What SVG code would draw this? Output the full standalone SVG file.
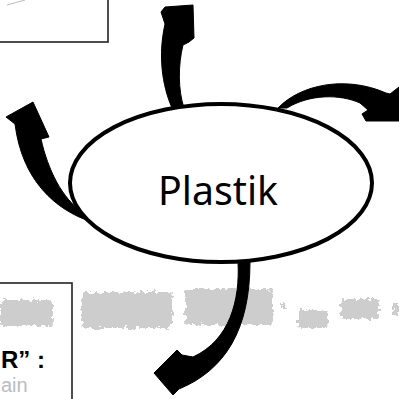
<svg xmlns="http://www.w3.org/2000/svg" width="399" height="399" viewBox="0 0 399 399">
<defs>
<style>
.arrow{fill:#000;stroke:#000;stroke-width:1;stroke-linejoin:round}
.box{fill:none;stroke:#222;stroke-width:1.6}
.smudge{fill:#cdcdcd}
</style>
<filter id="soft" x="-10%" y="-30%" width="120%" height="160%">
<feTurbulence type="fractalNoise" baseFrequency="0.25" numOctaves="2" seed="3" result="n"/>
<feDisplacementMap in="SourceGraphic" in2="n" scale="8" xChannelSelector="R" yChannelSelector="G"/>
</filter>
</defs>
<rect x="0" y="0" width="399" height="399" fill="#fff"/>
<g id="smudges" filter="url(#soft)">
<rect class="smudge" x="0" y="300" width="53" height="26" rx="3"/>
<rect class="smudge" x="82" y="292" width="90" height="36" rx="4"/>
<rect class="smudge" x="185" y="289" width="88" height="36" rx="4"/>
<rect class="smudge" x="281" y="303" width="5" height="5"/>
<rect class="smudge" x="298" y="310" width="30" height="18" rx="3"/>
<rect class="smudge" x="341" y="299" width="38" height="20" rx="3"/>
<rect class="smudge" x="393" y="303" width="6" height="12"/>
</g>
<g id="box-top">
<rect class="box" x="-5" y="-5" width="113" height="47"/>
<line x1="7" y1="5" x2="25" y2="0" stroke="#bbb" stroke-width="1"/>
</g>
<g id="box-bottom">
<rect class="box" x="-5" y="283" width="77" height="130"/>
<text x="1" y="368" font-family="'Liberation Sans', Arial, sans-serif" font-weight="bold" font-size="24" fill="#000">R” :</text>
<text x="1" y="392" font-family="'Liberation Sans', Arial, sans-serif" font-size="20" fill="#b8bcc4">ain</text>
</g>
<g id="connectors">
<path class="arrow" d="M 172,108 C 162,85 158,55 165,24 L 161,12 L 165,7 L 193,5 L 194,38 L 189,42 L 183,45 C 178,65 178,90 184,108 Z"/>
<path class="arrow" d="M 278,108 C 300,85 345,75 386,93 L 390,94 L 399,87 L 399,121 L 366,121 L 362,114 L 368,110 L 360,103 C 340,94 310,94 287,108 Z"/>
<path class="arrow" d="M 92,222 C 55,210 22,180 15,124 L 6,117 L 33,102 L 49,137 L 41,139 C 48,170 62,198 82,212 Z"/>
<path class="arrow" d="M 238,262 C 240,300 230,340 193,357 L 182,355 L 177,350 L 154,373 L 173,395 L 179,389 C 225,370 250,330 250,262 Z"/>
</g>
<g id="node-plastik">
<ellipse cx="221" cy="183" rx="151" ry="79" fill="#fff" stroke="#000" stroke-width="4"/>
<text x="218" y="205" text-anchor="middle" font-family="'Noto Sans', sans-serif" font-size="40" textLength="120" lengthAdjust="spacingAndGlyphs" fill="#000">Plastik</text>
</g>
</svg>
